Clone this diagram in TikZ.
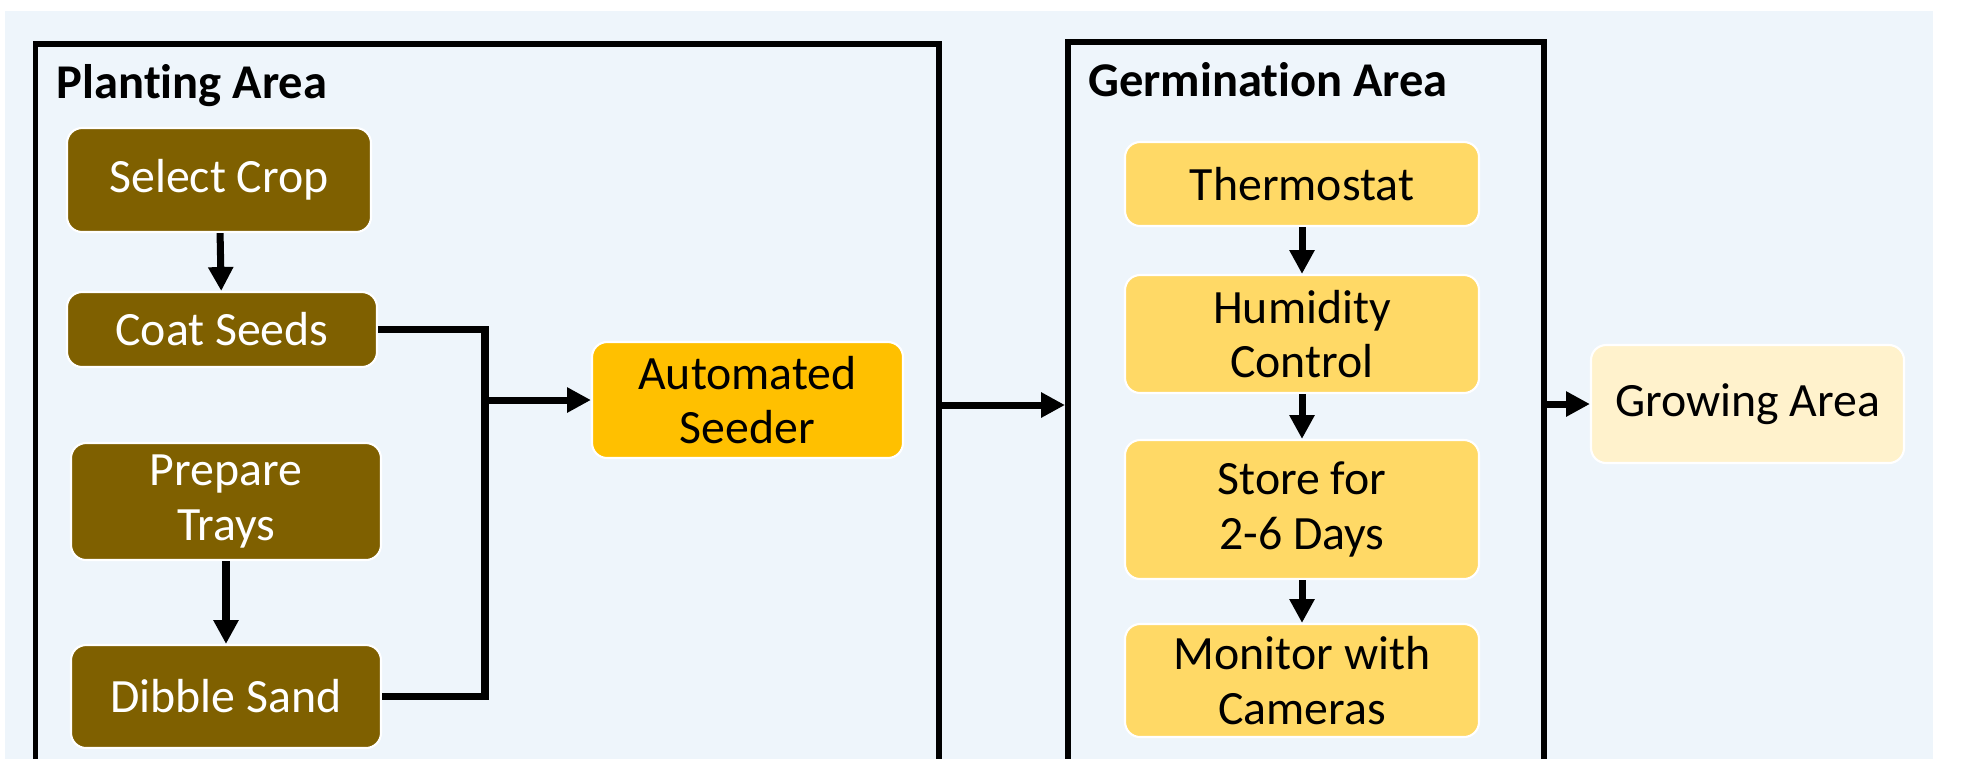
\documentclass[tikz,border=0pt]{standalone}
\usepackage{fontspec}
\setmainfont[Ligatures=NoCommon]{Carlito}
\usepackage{xcolor}
\usepackage{tikz}
\usetikzlibrary{arrows.meta}

\definecolor{panelblue}{HTML}{EEF5FB}
\definecolor{soilbrown}{HTML}{7F6000}
\definecolor{seederamber}{HTML}{FFC000}
\definecolor{germyellow}{HTML}{FFD966}
\definecolor{growcream}{HTML}{FFF2CC}

\begin{document}
\begin{tikzpicture}[
    x=1cm,
    y=1cm,
    >={Triangle[length=6.8pt,width=6.8pt]},
    area/.style={rectangle,draw=black,line width=1.7pt,inner sep=0pt},
    areatitle/.style={anchor=base west,inner sep=0pt,
        font=\bfseries\fontsize{13.8pt}{15.6pt}\selectfont},
    task/.style={rectangle,rounded corners=4.3pt,draw=white,line width=0.6pt,
        align=center,inner sep=0pt,font=\fontsize{13.6pt}{15.6pt}\selectfont},
    planttask/.style={task,fill=soilbrown,text=white},
    seedtask/.style={task,fill=seederamber},
    germtask/.style={task,fill=germyellow,minimum width=3.54cm},
    growtask/.style={task,fill=growcream},
    link/.style={line width=2pt,draw=black}
]

\useasboundingbox (0,0) rectangle (19.66,-7.58);

% ---------------------------------------------------------
% Background panel
% ---------------------------------------------------------

\fill[panelblue] (0.05,-0.11) rectangle (19.33,-7.62);

% ---------------------------------------------------------
% Area frames (open towards the bottom edge)
% ---------------------------------------------------------

\node[area,minimum width=9.032cm,minimum height=7.76cm]
    (plantarea) at (4.871,-4.32) {};

\node[area,minimum width=4.757cm,minimum height=7.78cm]
    (germarea) at (13.0585,-4.31) {};

\node[areatitle] at (0.56,-0.98) {Planting Area};
\node[areatitle] at (10.875,-0.967) {Germination Area};

% ---------------------------------------------------------
% Planting steps
% ---------------------------------------------------------

\node[planttask,minimum width=3.04cm,minimum height=1.04cm]
    (select) at (2.19,-1.80) {Select Crop};

\node[planttask,minimum width=3.10cm,minimum height=0.75cm]
    (coat) at (2.22,-3.295) {Coat Seeds};

\node[planttask,minimum width=3.10cm,minimum height=1.17cm]
    (prepare) at (2.26,-5.015) {Prepare\\Trays};

\node[planttask,minimum width=3.10cm,minimum height=1.03cm]
    (dibble) at (2.26,-6.965) {Dibble Sand};

\node[seedtask,minimum width=3.11cm,minimum height=1.16cm]
    (seeder) at (7.475,-4.00) {Automated\\Seeder};

% ---------------------------------------------------------
% Germination steps
% ---------------------------------------------------------

\node[germtask,minimum height=0.84cm]
    (thermo) at (13.02,-1.84) {Thermostat};

\node[germtask,minimum height=1.18cm]
    (humid) at (13.02,-3.34) {Humidity\\Control};

\node[germtask,minimum height=1.39cm]
    (store) at (13.02,-5.095) {Store for\\2-6 Days};

\node[germtask,minimum height=1.13cm]
    (monitor) at (13.02,-6.805) {Monitor with\\Cameras};

\node[growtask,minimum width=3.13cm,minimum height=1.18cm]
    (growing) at (17.475,-4.04) {Growing Area};

% ---------------------------------------------------------
% Connectors
% ---------------------------------------------------------

\draw[link,->] (select) -- (coat);
\draw[link,->] (prepare) -- (dibble);

\coordinate (merge) at (4.85,-4.00);
\draw[link] (coat.east) -| (merge);
\draw[link] (dibble.east) -| (merge);
\draw[link,->] (merge) -- (seeder.west);

\coordinate (crossrow) at (0,-4.05);
\draw[link,->]
    (plantarea.east |- crossrow) -- (germarea.west |- crossrow);

\draw[link,->] (thermo) -- (humid);
\draw[link,->] (humid) -- (store);
\draw[link,->] (store) -- (monitor);

\draw[link,->]
    (germarea.east |- growing.west) -- (growing.west);

\end{tikzpicture}
\end{document}
